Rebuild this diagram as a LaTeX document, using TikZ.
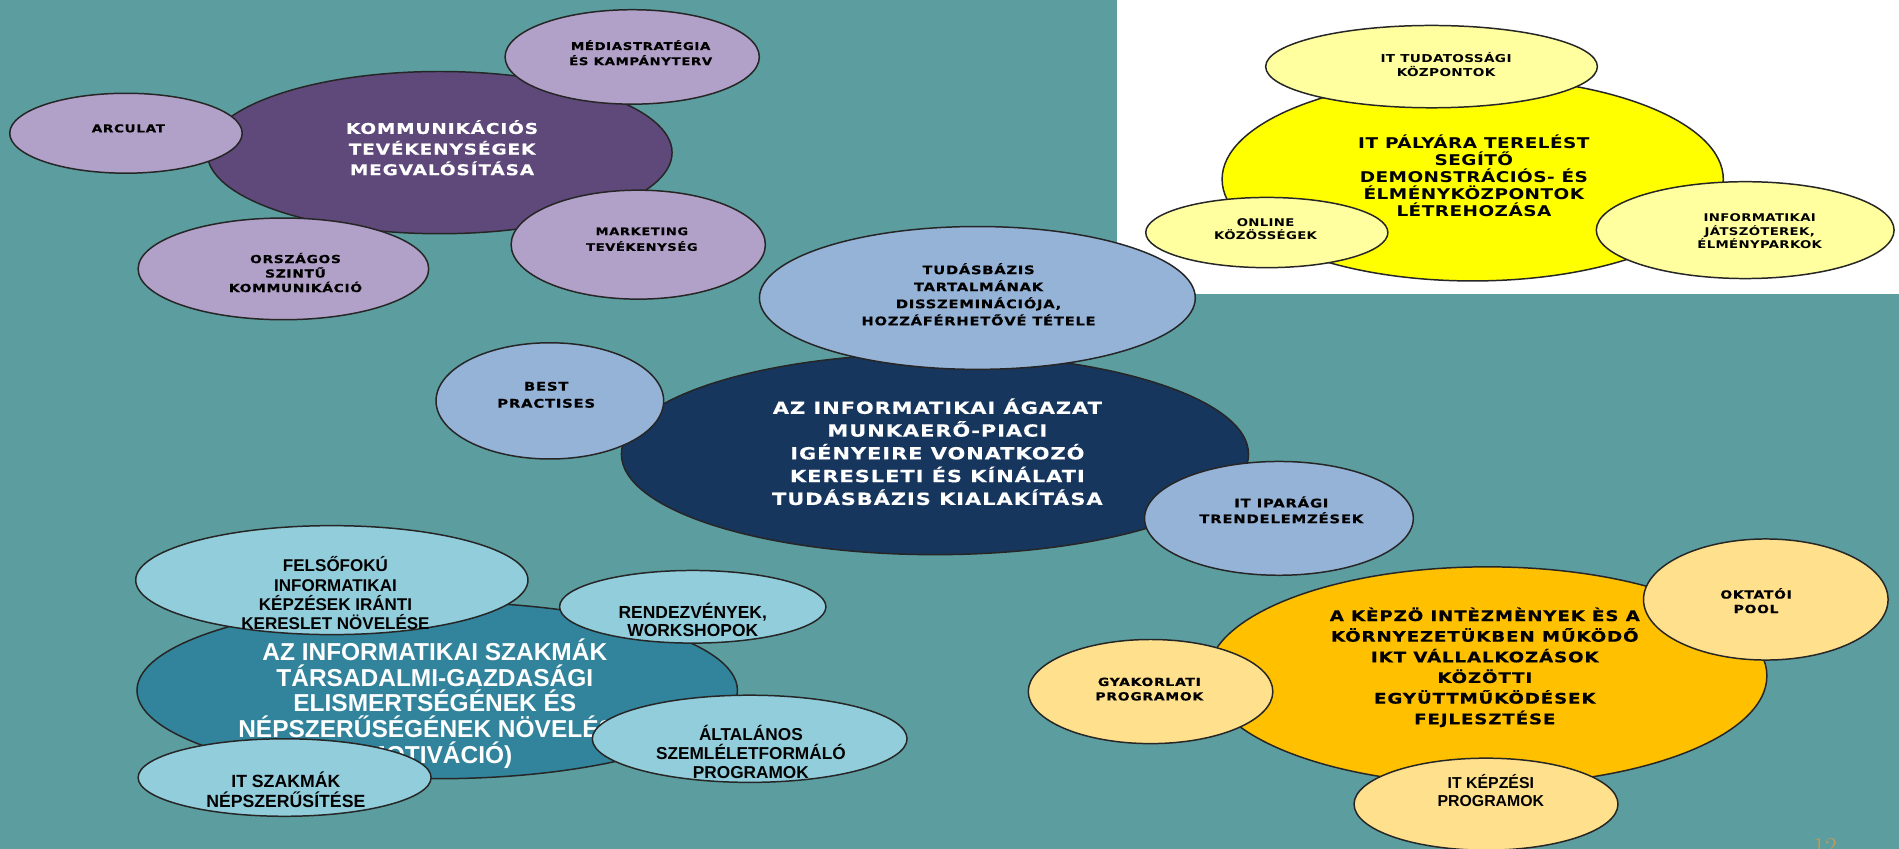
\documentclass[tikz,border=0pt]{standalone}
\usepackage{fontspec}
\usetikzlibrary{shapes.geometric}
\newfontfamily\pixf{DejaVu Sans}[FakeStretch=1.25, LetterSpace=6, FakeBold=0.4]
\newfontfamily\verf{DejaVu Sans}[FakeStretch=1.25, LetterSpace=3]
\newfontfamily\tahf{Liberation Sans}
\definecolor{bgc}{RGB}{92,157,160}
\definecolor{dpurple}{RGB}{94,73,122}
\definecolor{lpurple}{RGB}{177,160,199}
\definecolor{dyellow}{RGB}{255,255,0}
\definecolor{lyellow}{RGB}{255,255,160}
\definecolor{navy}{RGB}{23,54,93}
\definecolor{lblue}{RGB}{149,179,215}
\definecolor{dcyan}{RGB}{49,132,155}
\definecolor{lcyan}{RGB}{146,205,220}
\definecolor{dorange}{RGB}{255,192,0}
\definecolor{lorange}{RGB}{255,224,140}
\definecolor{numcol}{RGB}{192,152,88}
\tikzset{
  ell/.style={ellipse, draw=black!85, line width=0.7pt, inner sep=0pt},
  sz/.style 2 args={minimum width={#1*0.04cm}, minimum height={#2*0.04cm}},
  txt/.style={align=center, inner sep=0pt},
  px/.style 2 args={font=\pixf\bfseries\fontsize{#1}{#2}\selectfont},
  vr/.style 2 args={font=\verf\bfseries\fontsize{#1}{#2}\selectfont},
  th/.style 2 args={font=\tahf\bfseries\fontsize{#1}{#2}\selectfont},
}
\begin{document}
\begin{tikzpicture}[x=0.02cm, y=-0.02cm]
\useasboundingbox (0,0) rectangle (1568,701);
\fill[bgc] (0,0) rectangle (1568,701);
\fill[white] (922,0) rectangle (1568,243);

% purple group
\node[ell, fill=dpurple, sz={192}{67}] (pm) at (363,126) {};
\node[txt, px={6.95}{9.7}, text=white] (pmt) at (365,122) {KOMMUNIKÁCIÓS\\TEVÉKENYSÉGEK\\MEGVALÓSÍTÁSA};
\node[ell, fill=lpurple, sz={96}{33}] (arc) at (104,110) {};
\node[txt, px={5.1}{7}] (arct) at (106,106) {ARCULAT};
\node[ell, fill=lpurple, sz={105}{39}] (med) at (522,47) {};
\node[txt, px={5.0}{7.1}] (medt) at (529,43.5) {MÉDIASTRATÉGIA\\ÉS KAMPÁNYTERV};
\node[ell, fill=lpurple, sz={105}{45}] (mkt) at (527,202) {};
\node[txt, px={4.9}{7.4}] (mktt) at (530,197.5) {MARKETING\\TEVÉKENYSÉG};
\node[ell, fill=lpurple, sz={120}{42}] (orsz) at (234,222) {};
\node[txt, px={5.2}{6.8}] (orszt) at (244,225) {ORSZÁGOS\\SZINTŰ\\KOMMUNIKÁCIÓ};

% yellow group
\node[ell, fill=dyellow, sz={207}{84}] (ym) at (1216,148) {};
\node[txt, vr={6.95}{8.0}] (ymt) at (1217,145) {IT PÁLYÁRA TERELÉST\\SEGÍTŐ\\DEMONSTRÁCIÓS- ÉS\\ÉLMÉNYKÖZPONTOK\\LÉTREHOZÁSA};
\node[ell, fill=lyellow, sz={137}{34}] (itt) at (1182,55) {};
\node[txt, vr={5.13}{6.5}] (ittt) at (1194,53) {IT TUDATOSSÁGI\\KÖZPONTOK};
\node[ell, fill=lyellow, sz={100}{29}] (onl) at (1046,192) {};
\node[txt, vr={5.0}{6.3}] (onlt) at (1045,189) {ONLINE\\KÖZÖSSÉGEK};
\node[ell, fill=lyellow, sz={123}{40}] (inf) at (1441,190) {};
\node[txt, vr={5.0}{6.3}] (inft) at (1453,191) {INFORMATIKAI\\JÁTSZÓTEREK,\\ÉLMÉNYPARKOK};

% blue group
\node[ell, fill=navy, sz={259}{83}] (dm) at (772,375) {};
\node[txt, px={7.85}{10.7}, text=white] (dmt) at (774,373) {AZ INFORMATIKAI ÁGAZAT\\MUNKAERŐ-PIACI\\IGÉNYEIRE VONATKOZÓ\\KERESLETI ÉS KÍNÁLATI\\TUDÁSBÁZIS KIALAKÍTÁSA};
\node[ell, fill=lblue, sz={180}{59}] (tud) at (807,246) {};
\node[txt, px={5.55}{8}] (tudt) at (808,243) {TUDÁSBÁZIS\\TARTALMÁNAK\\DISSZEMINÁCIÓJA,\\HOZZÁFÉRHETŐVÉ TÉTELE};
\node[ell, fill=lblue, sz={94}{48}] (best) at (454,331) {};
\node[txt, px={5.6}{8}] (bestt) at (451,326) {BEST\\PRACTISES};
\node[ell, fill=lblue, sz={111}{47}] (ipar) at (1056,428) {};
\node[txt, px={5.6}{7.4}] (ipart) at (1058,421) {IT IPARÁGI\\TRENDELEMZÉSEK};

% cyan group
\node[ell, fill=dcyan, sz={248}{73}] (cm) at (361,570) {};
\node[txt, th={11.5}{12}, text=white] (cmt) at (359,581) {AZ INFORMATIKAI SZAKMÁK\\TÁRSADALMI-GAZDASÁGI\\ELISMERTSÉGÉNEK ÉS\\NÉPSZERŰSÉGÉNEK NÖVELÉSE\\(MOTIVÁCIÓ)};
\node[ell, fill=lcyan, sz={162}{45}] (fel) at (274,479) {};
\node[txt, th={8.0}{9.1}] (felt) at (277,490) {FELSŐFOKÚ\\INFORMATIKAI\\KÉPZÉSEK IRÁNTI\\KERESLET NÖVELÉSE};
\node[ell, fill=lcyan, sz={110}{30}] (ren) at (572,501) {};
\node[txt, th={8.2}{8.5}] (rent) at (572,512) {RENDEZVÉNYEK,\\WORKSHOPOK};
\node[ell, fill=lcyan, sz={130}{36}] (alt) at (619,610) {};
\node[txt, th={8.1}{8.8}] (altt) at (620,621) {ÁLTALÁNOS\\SZEMLÉLETFORMÁLÓ\\PROGRAMOK};
\node[ell, fill=lcyan, sz={121}{32}] (itsz) at (235,642) {};
\node[txt, th={8.3}{9.1}] (itszt) at (236,652) {IT SZAKMÁK\\NÉPSZERŰSÍTÉSE};

% orange group
\node[ell, fill=dorange, sz={231}{90}] (om) at (1228,558) {};
\node[txt, px={6.85}{9.7}] (omt) at (1226,551) {A KÈPZÖ INTÈZMÈNYEK ÈS A\\KÖRNYEZETÜKBEN MŰKÖDŐ\\IKT VÁLLALKOZÁSOK\\KÖZÖTTI\\EGYÜTTMŰKÖDÉSEK\\FEJLESZTÉSE};
\node[ell, fill=lorange, sz={101}{50}] (okt) at (1458,495) {};
\node[txt, px={5.25}{6.8}] (oktt) at (1450,496) {OKTATÓI\\POOL};
\node[ell, fill=lorange, sz={101}{43}] (gyak) at (950,571) {};
\node[txt, px={5.25}{6.8}] (gyakt) at (949,569) {GYAKORLATI\\PROGRAMOK};
\node[ell, fill=lorange, sz={109}{38}] (itk) at (1227,664) {};
\node[txt, th={7.45}{8.5}] (itkt) at (1231,653) {IT KÉPZÉSI\\PROGRAMOK};

% page number
\node[anchor=north, inner sep=0pt, text=numcol, font=\fontsize{11.5}{12}\selectfont] (pg) at (1507,692) {12};
\end{tikzpicture}
\end{document}
